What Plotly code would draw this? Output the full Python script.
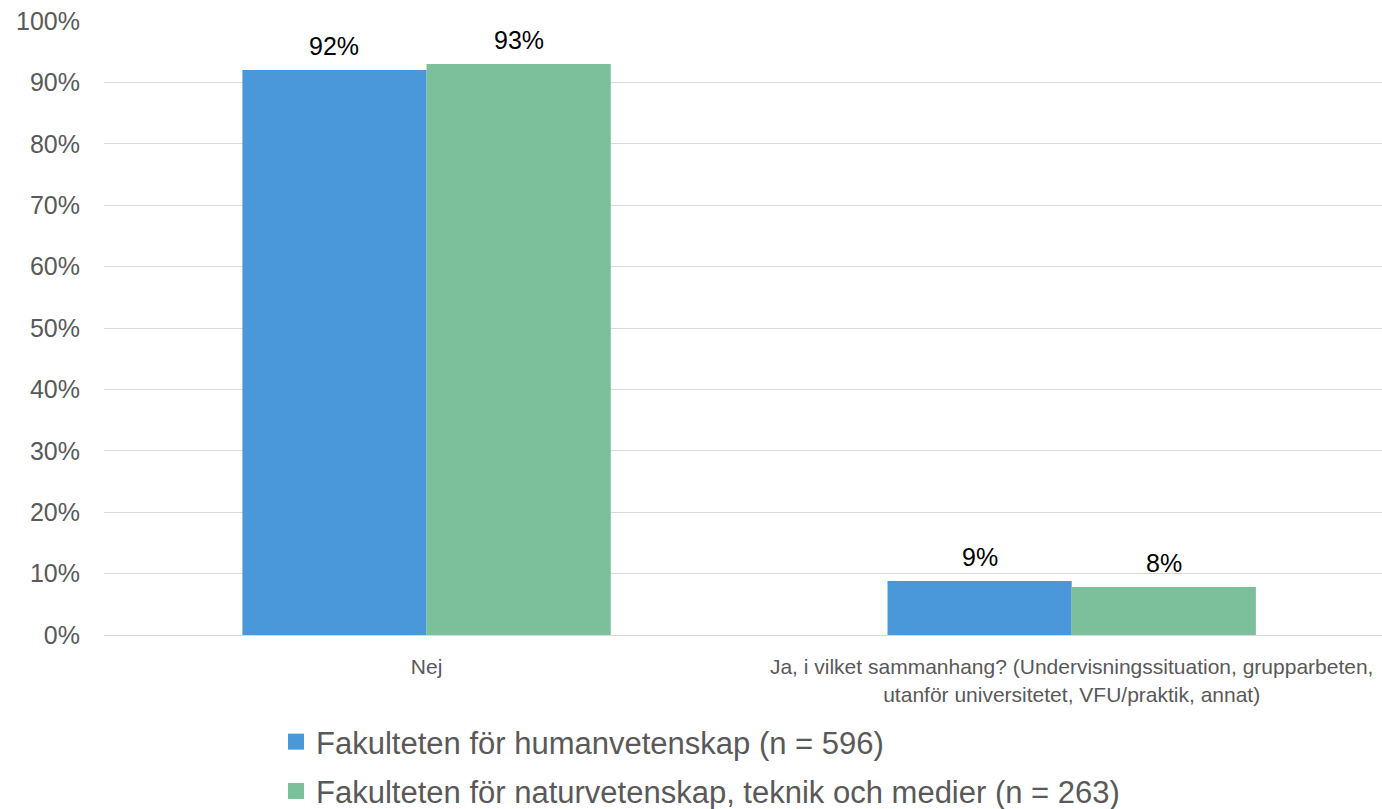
import plotly.graph_objects as go

categories = ["Nej", "Ja, i vilket sammanhang? (Undervisningssituation, grupparbeten,<br>utanför universitetet, VFU/praktik, annat)"]
series_names = ["Fakulteten för humanvetenskap (n = 596)",
                "Fakulteten för naturvetenskap, teknik och medier (n = 263)"]
hum_values = [0.92, 0.088]
nat_values = [0.93, 0.078]
colors = ["#4A98DA", "#7BC09A"]

FONT = "Liberation Sans, Arial, sans-serif"
GRAY = "#595959"

fig = go.Figure()
for i, (name, vals) in enumerate(zip(series_names, [hum_values, nat_values])):
    fig.add_trace(go.Bar(
        x=categories, y=vals, name=name, marker_color=colors[i],
        marker_line_width=0, showlegend=False,
    ))
    # legend entry with larger square symbol
    fig.add_trace(go.Scatter(
        x=[None], y=[None], mode="markers", name=name,
        marker=dict(symbol="square", size=16, color=colors[i]),
        legendgroup=f"g{i}", showlegend=True,
    ))

# data labels
bargap = 0.429
cat_px = 645
half = (1 - bargap) * cat_px / 4
for i, vals in enumerate([hum_values, nat_values]):
    for c, v in zip(categories, vals):
        fig.add_annotation(
            x=c, y=v, text=f"{round(v*100):.0f}%", showarrow=False,
            xshift=(-half if i == 0 else half), yshift=24,
            font=dict(family=FONT, size=25, color="#000000"),
        )

fig.update_layout(
    width=1382, height=809,
    margin=dict(l=104, r=0, t=21, b=174, autoexpand=False),
    paper_bgcolor="white", plot_bgcolor="white",
    barmode="group", bargap=bargap, bargroupgap=0,
    font=dict(family=FONT, color=GRAY),
    showlegend=True,
    legend=dict(
        orientation="v", x=0.1346, xanchor="left", y=-0.1303, yanchor="top",
        font=dict(family=FONT, size=31, color=GRAY),
        tracegroupgap=6, itemsizing="trace",
    ),
)
fig.update_xaxes(
    range=[-0.5, 1.481], showgrid=False, showline=True, linecolor="#d9d9d9",
    linewidth=1, ticks="", tickfont=dict(family=FONT, size=21, color=GRAY),
    ticklabelstandoff=13, zeroline=False, automargin=False,
)
fig.update_yaxes(
    range=[0, 1.0], dtick=0.1, tickformat=".0%", showgrid=True,
    gridcolor="#d9d9d9", gridwidth=1, zeroline=False, ticks="",
    tickfont=dict(family=FONT, size=25, color=GRAY), ticklabelstandoff=23,
    automargin=False,
)

fig.write_html(
    "out.html",
    config={"displayModeBar": False},
    post_script="document.body.style.margin='0px';document.body.style.overflow='hidden';",
)
